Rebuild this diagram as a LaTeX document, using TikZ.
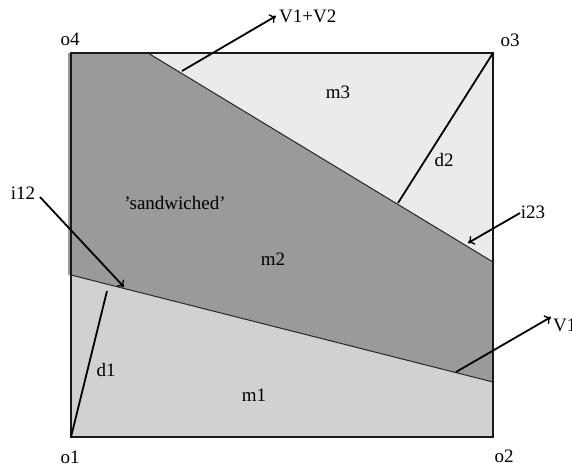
\documentclass[tikz,border=0pt]{standalone}
\usepackage{fontspec}
\setmainfont{Liberation Serif}
\usetikzlibrary{arrows.meta}
\definecolor{mone}{HTML}{D0D1D0}
\definecolor{mtwo}{HTML}{999A99}
\definecolor{mthree}{HTML}{EAEBEA}
\begin{document}
\begin{tikzpicture}[x=1pt,y=-1pt,
  lbl/.style={font=\fontsize{19}{22}\selectfont, inner sep=0pt},
  arr/.style={line width=1.8pt, -{To[length=6pt,width=10pt,line width=1.3pt]}},
  diag/.style={line width=1.8pt},
  bound/.style={line width=1pt, draw=black!85},
  frame/.style={line width=2.4pt, draw=black!90}]
\useasboundingbox (0,0) rectangle (572,467);
\coordinate (o1) at (71,437);
\coordinate (o2) at (493,437);
\coordinate (o3) at (493,53);
\coordinate (o4) at (71,53);
\coordinate (a) at (148,53);
\coordinate (b) at (493,262);
\coordinate (c) at (493,382);
\coordinate (e) at (71,275);
% regions
\fill[mthree] (a) -- (o3) -- (b) -- cycle;
\fill[mtwo] (68,53) -- (a) -- (b) -- (c) -- (e) -- (68,275) -- cycle;
\fill[mone] (e) -- (c) -- (o2) -- (o1) -- cycle;
\draw[bound] (a) -- (b);
\draw[bound] (e) -- (c);
\draw[frame] (o1) -- (o2) -- (o3) -- (o4) -- cycle;
% diagonals
\coordinate (d1e) at (107,291);
\coordinate (d2e) at (398,203);
\draw[diag] (o1) -- (d1e);
\draw[diag] (o3) -- (d2e);
% arrows
\coordinate (v12s) at (182,71);
\coordinate (v12t) at (276,16);
\coordinate (i12s) at (40,197);
\coordinate (i12t) at (124,287);
\coordinate (i23s) at (520,213);
\coordinate (i23t) at (468,243);
\coordinate (v1s) at (456,372);
\coordinate (v1t) at (551,317);
\draw[arr] (v12s) -- (v12t);
\draw[arr] (i12s) -- (i12t);
\draw[arr] (i23s) -- (i23t);
\draw[arr] (v1s) -- (v1t);
% labels
\node[lbl] (lo1) at (70,457) {o1};
\node[lbl] (lo2) at (504,456) {o2};
\node[lbl] (lo3) at (510,40) {o3};
\node[lbl] (lo4) at (70,39) {o4};
\node[lbl] (li12) at (23,193) {i12};
\node[lbl] (li23) at (533,212) {i23};
\node[lbl,anchor=west] (lv12) at (279,16) {V1+V2};
\node[lbl,anchor=west] (lv1) at (553,325) {V1};
\node[lbl] (lm1) at (254,395) {m1};
\node[lbl] (lm2) at (273,259) {m2};
\node[lbl] (lm3) at (338,92) {m3};
\node[lbl] (ld1) at (106,370) {d1};
\node[lbl] (ld2) at (444,160) {d2};
\node[lbl] (lsw) at (175,203) {'sandwiched'};
\end{tikzpicture}
\end{document}
